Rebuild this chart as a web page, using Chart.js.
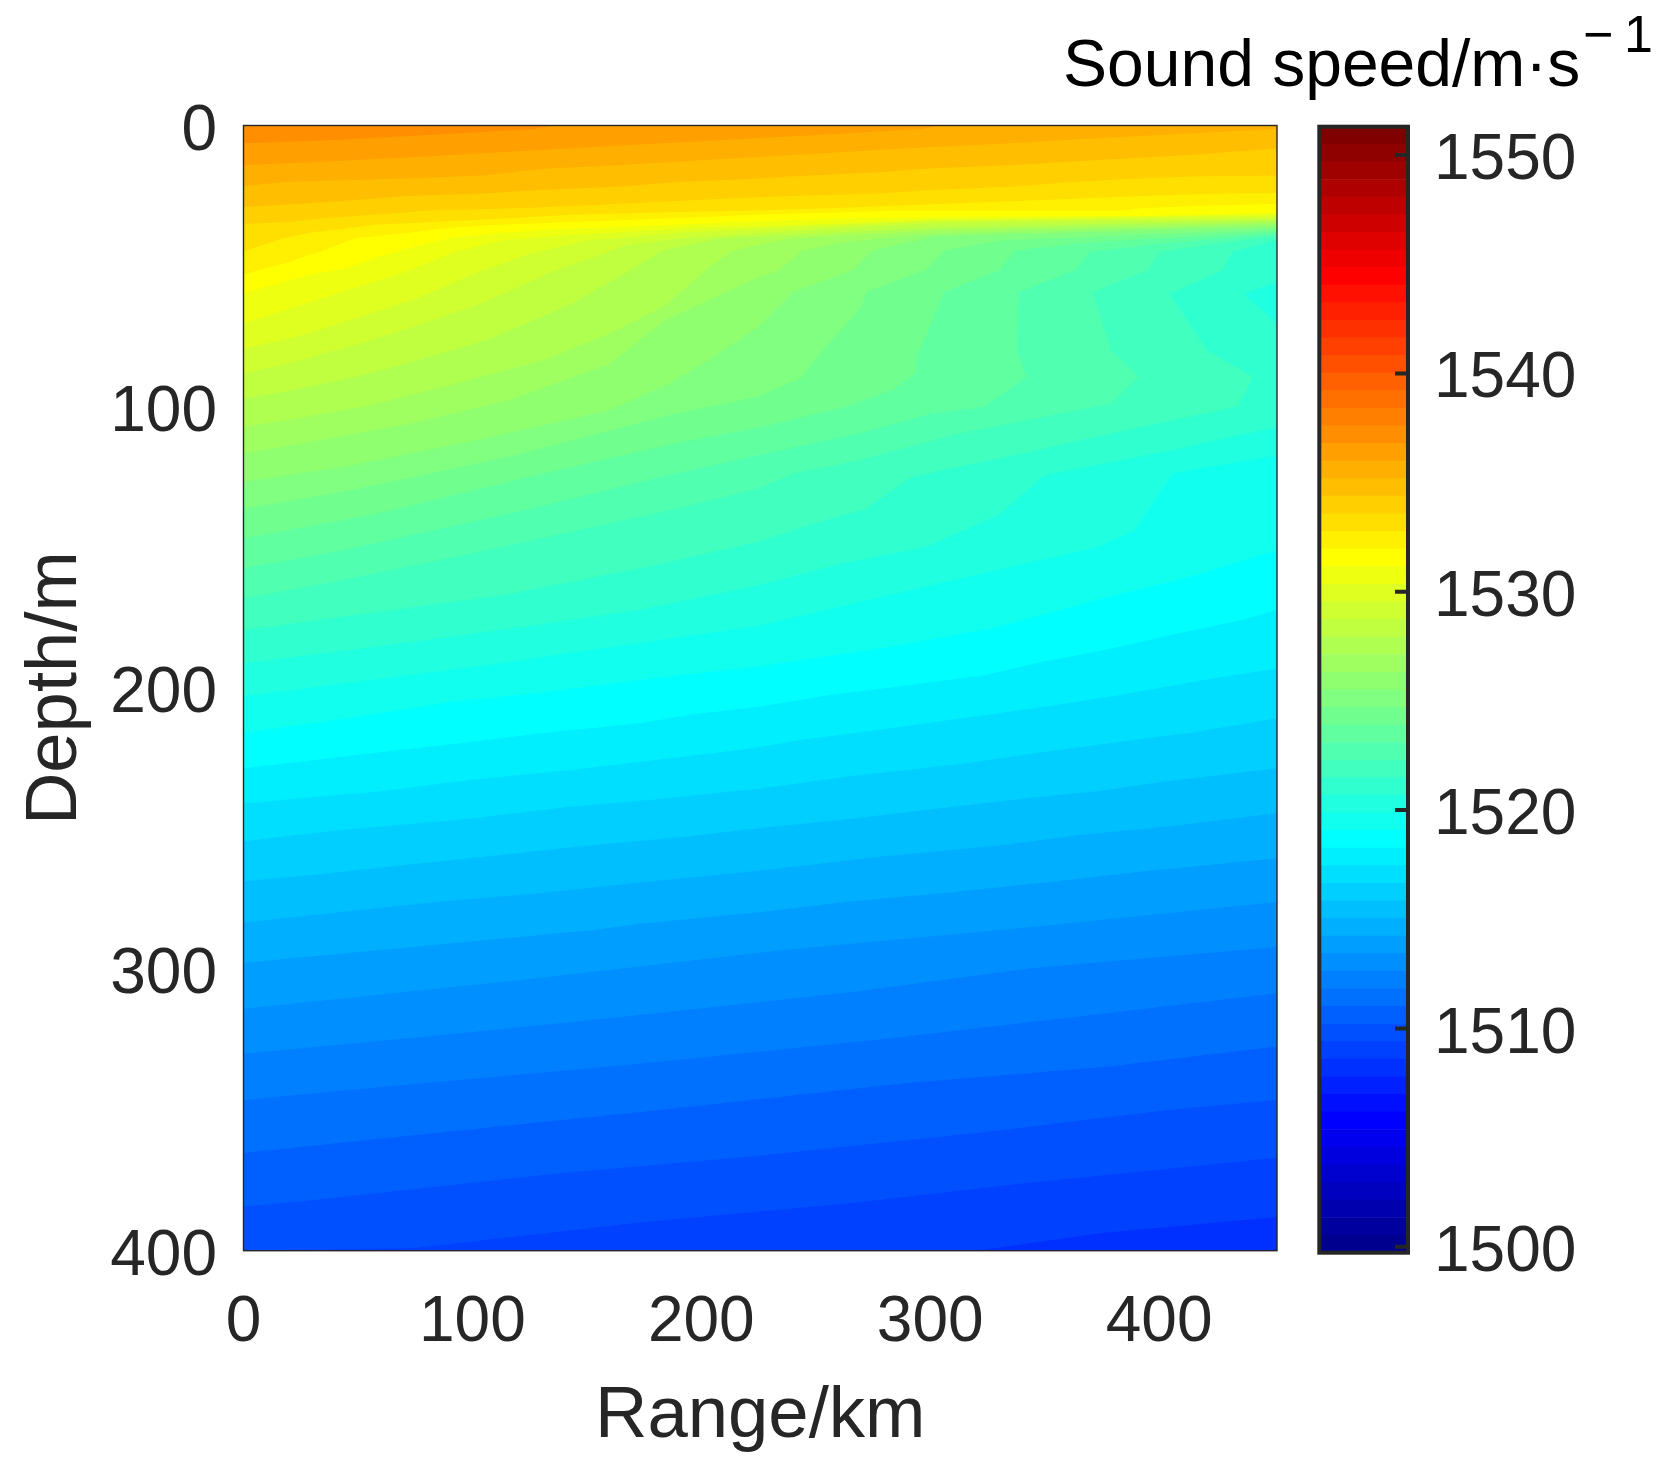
<!DOCTYPE html>
<html><head><meta charset="utf-8">
<style>
html,body{margin:0;padding:0;background:#fff;width:1666px;height:1470px;overflow:hidden}
canvas{position:absolute;top:0}
#plot{left:0}
#bar{left:1300px}
#cbTitle{position:absolute;left:1063px;top:0;height:100px;width:600px;font-family:"Liberation Sans",Arial,sans-serif;color:#000;white-space:nowrap}
#cbTitle .m{position:absolute;left:0;top:26px;font-size:66px;line-height:74px}
#cbTitle .s1{position:absolute;left:520px;top:4px;font-size:52px;line-height:60px}
#cbTitle .s2{position:absolute;left:561px;top:4px;font-size:52px;line-height:60px}
</style>
<script src="https://cdn.jsdelivr.net/npm/chart.js@4"></script>
</head><body>
<canvas id="plot" width="1666" height="1470"></canvas>
<canvas id="bar" width="366" height="1470"></canvas>
<div id="cbTitle"><span class="m">Sound speed/m·s</span><span class="s1">−</span><span class="s2">1</span></div>
<script>
// Axis ticks
const rangeTicks = [0,100,200,300,400];
const depthTicks = [0,100,200,300,400];
const speedTicks = [1500,1510,1520,1530,1540,1550];
const rangeMax = 451.5, depthMax = 400;
const colorMin = 1499.73, colorMax = 1551.3;

// Contours: [range km, depth m]. isoN is the lower edge of the
// colour band N+1, i.e. below it the field has colour index N of the 64-step jet map.
const iso47=[[0,0],[451.5,0]];
const iso46=[[0,6.3],[36,5.3],[82,3.3],[127,1.2],[135,0],[451.5,0]];
const iso45=[[0,14],[25,13.2],[71,11.4],[116,9.3],[162.5,7.2],[207,5.2],[253,3.3],[296,1.2],[305,0],[451.5,0]];
const iso44=[[0,21.5],[18,20.1],[67.5,18.9],[104.5,17.8],[131,15.4],[165,14],[198,12.4],[244,10.3],[288,8.2],[335,6.3],[379,4.3],[423.5,2.4],[451.5,1.2]];
const iso43=[[0,29],[25,27.8],[48,26.6],[71,25.1],[103,24.3],[129,22.9],[165,21.7],[190,20.1],[216,19.2],[241,18],[277.5,16.6],[301.5,15.2],[337,14],[370,12.4],[416,10.3],[451.5,8.2]];
const iso42=[[0,35],[20,34.3],[35,33],[57,31.7],[82,30.2],[126,29.2],[165,27.8],[196,26.6],[232,25.2],[275,24.3],[301.5,22.9],[337,21.7],[362,20.1],[387,19],[413,18.1],[451.5,17.8]];
const iso41=[[0,44.8],[18,40],[30.5,37.9],[44,36.7],[57,35.3],[81,34.3],[110,33.2],[143,31.7],[184.6,30.8],[221,30.2],[256,29.4],[286,28.4],[346.5,26.6],[391,25.1],[423.5,24.3],[451.5,24]];
const iso40=[[0,53],[11.6,50.3],[19,48.8],[27.6,46.2],[34,44.8],[44.3,41.4],[49.4,40],[75.5,37.9],[85.7,36.7],[106,35.5],[143,34.3],[180,33.2],[222,31.7],[289,30.2],[384,30.2],[393,29.3],[423.5,28.4],[451.5,27.8]];
const iso39=[[0,59.8],[8.7,57.4],[27.6,53.3],[39.2,51.5],[44.3,50.9],[58,46.8],[77,42.6],[92,39.7],[113,38.1],[139,36.7],[168.6,36],[205,34.7],[235,33.7],[301.5,32.4],[388.6,32.2],[451.5,31]];
const iso38=[[0,70.4],[22.5,64.5],[43.6,59],[61,54.6],[72.6,51.5],[92,45],[113,40.8],[151,38.5],[203.5,36.1],[258.6,34.9],[301.5,33.4],[451.5,31.7]];
const iso37=[[0,79.3],[23,75.2],[51,68],[75.5,61.6],[104.5,51.5],[125,45.6],[151,40.8],[195,37.9],[260,35.5],[301.5,33.9],[451.5,32.4]];
const iso36=[[0,88.2],[19,84.7],[43.6,79.3],[69.7,72.8],[101.6,64],[136.5,51.5],[151,47.4],[167,42.6],[195,39.7],[256,36.7],[301.5,34.7],[451.5,33.2]];
const iso35=[[0,97.1],[17.4,94.7],[52,88.8],[75.5,83.5],[106,76.4],[143.7,63.3],[169,51.5],[183,44.4],[207,40.3],[301.5,36.3],[451.5,33.9]];
const iso34=[[0,107.1],[19,104.8],[55,99.5],[90,92.3],[130.7,83.5],[160,74],[184.4,64],[202,51.5],[213.6,44.4],[238,40.3],[301.5,37.3],[451.5,34.6]];
const iso33=[[0,116.6],[26,113],[72.6,106],[116,97.7],[160,84.7],[184,69.3],[225,53.9],[234,51.5],[244,44.4],[263,41.4],[301.5,38.5],[451.5,35.3]];
const iso32=[[0,126.7],[43.6,121.4],[101.6,111.9],[160,101.2],[186,91.8],[203,83.5],[225,71.6],[240,59.2],[266,51.5],[274.6,44.4],[301.5,39.5],[451.5,36.1]];
const iso31=[[0,136.2],[43.6,130.2],[116,117.8],[189,102.4],[225,96.3],[244,89.4],[253,79.9],[270,64.5],[272,59.2],[298,51.5],[306,44.4],[332,40.8],[451.5,37]];
const iso30=[[0,146.8],[58,138],[130.7,123.7],[189,113],[225,107.4],[263,100],[283.4,94.1],[293.5,88.2],[293.6,83.5],[306,59.2],[330,51.5],[337,44.4],[371,41.4],[451.5,37.8]];
const iso29=[[0,157.5],[43.6,151],[116,138],[189,123.7],[225,117.2],[269,109.5],[301,102.4],[324,100],[342,89.4],[338,79.9],[338.6,59.2],[363.3,51.5],[370,45],[400,42],[451.5,38.6]];
const iso28=[[0,168.1],[43.6,161.6],[113,149.8],[189,136.2],[225,129],[240,123.7],[269,119],[312.4,109.5],[379,98.9],[391,89.4],[379,79.9],[371,59.2],[395,51.5],[400,45],[425,42],[451.5,39.3]];
const iso27=[[0,179.4],[113,167],[173,157.5],[225,148],[247,142.1],[272,136.2],[292,124.9],[341.5,116.3],[385,108.3],[434.4,100],[441,89.4],[421,79.9],[404.6,59.8],[428,51.5],[432,45],[451.5,40.8]];
const iso26=[[0,191.2],[58,185.3],[123,178.2],[173,172.2],[225,163.4],[261.6,155.7],[298,149.8],[330,138.5],[350,124.3],[406,115.4],[451.5,107.1]];
const iso26cornerTop=[[437,59.8],[451.5,55.6]];
const iso26cornerBottom=[[437,59.8],[451.5,70.4]];
const iso25=[[0,203],[101.6,192.4],[225,177.9],[273,168.7],[298,164],[341.5,155.7],[373.4,149.8],[389.4,143.9],[406,123.7],[451.5,117.2]];
const iso24=[[0,216],[44,211],[90,205],[128,201.8],[180,196.5],[225,192.4],[283,185.3],[327,178.8],[373,168.7],[414,160.4],[451.5,151]];
const iso23=[[0,228.5],[26,226],[68,222],[94.4,219.6],[130.7,216],[172.8,212.5],[194.6,209.5],[225,206.6],[256.5,202.4],[285.5,199.5],[324,195.3],[349,190.6],[376.3,186.5],[405,181.1],[436,175.8],[451.5,172.2]];
const iso22=[[0,241],[26,239.1],[59.5,236.8],[99.5,232.6],[143.8,229],[204.7,223.2],[225,221],[244,218.4],[277,214.9],[350,206.6],[383.6,202.4],[424,196.5],[451.5,193]];
const iso21=[[0,254.5],[23,252.2],[51,249.8],[94.4,246.8],[143.8,242.1],[178.6,239.7],[225,235.8],[264.5,231.4],[316,226.7],[346,223.2],[383.6,219],[413,216],[451.5,210.7]];
const iso20=[[0,268.7],[30.5,266.4],[43.6,265.2],[106,259.9],[146.7,256.3],[193,252.8],[225,249.8],[261.6,246.8],[304.5,242.7],[343,239.1],[372,236.8],[402.4,233.2],[451.5,228.5]];
const iso19=[[0,283.3],[86,275.9],[129,272.9],[178.6,268.7],[225,264.9],[279,259.9],[333,255.7],[365,252.2],[404,249.2],[451.5,244.5]];
const iso18=[[0,297.6],[153,286],[174,283.7],[225,279.7],[264.5,275.9],[305,272.9],[353,268.8],[392.5,265.2],[451.5,260.5]];
const iso17=[[0,314],[121,303.8],[237,293],[340,285.3],[382,281.8],[451.5,276]];
const iso16=[[0,330],[87,323.3],[170,316.5],[266,308],[344,299.6],[451.5,292]];
const iso15=[[0,346.4],[58,342],[167.5,334],[277,325],[352,318],[451.5,308.5]];
const iso14=[[0,365.3],[69,359.4],[182,350],[289,340.5],[378,334.5],[451.5,327.4]];
const iso13=[[0,384.3],[24.5,382.5],[139,372.4],[222,366.5],[326,357.6],[404,350],[451.5,346.4]];
const iso12=[[0,400],[75,399],[173,390],[266,383],[341,376],[451.5,367]];
const iso11=[[0,400],[320,400],[375,393.7],[451.5,388]];

// deepest first: the first dataset is painted last, on top
const contours=[iso11,iso12,iso13,iso14,iso15,iso16,iso17,iso18,iso19,iso20,iso21,iso22,iso23,iso24,iso25,iso26,iso27,iso28,iso29,iso30,iso31,iso32,iso33,iso34,iso35,iso36,iso37,iso38,iso39,iso40,iso41,iso42,iso43,iso44,iso45,iso46,iso47];
const firstBand=11, cornerBand=26;

function jet(k){ // MATLAB jet(64), k = 1..64
  let r,g,b;
  if(k<=8){r=0;g=0;b=0.5+k/16;}
  else if(k<=24){r=0;g=(k-8)/16;b=1;}
  else if(k<=40){r=(k-24)/16;g=1;b=1-(k-24)/16;}
  else if(k<=56){r=1;g=1-(k-40)/16;b=0;}
  else {r=1-(k-56)/16;g=0;b=0;}
  return `rgb(${Math.round(r*255)},${Math.round(g*255)},${Math.round(b*255)})`;
}

const INK='#262626', FONT='"Liberation Sans",Arial,sans-serif';
const tickFont={family:FONT,size:64};
const frame={id:'frame',afterDatasetsDraw(c,_,o){
  const a=c.chartArea,x=c.ctx;x.save();x.strokeStyle=INK;x.lineWidth=o.width;
  x.strokeRect(a.left,a.top,a.right-a.left,a.bottom-a.top);
  if(o.inward){const s=c.scales.y;x.lineWidth=4;x.beginPath();
    s.ticks.forEach(t=>{const p=s.getPixelForValue(t.value);x.moveTo(a.right,p);x.lineTo(a.right-13,p);});x.stroke();}
  x.restore();}};

const toPoints=pts=>pts.map(p=>({x:p[0],y:p[1]}));
const bandSets=contours.map((pts,i)=>({
  label:'band '+(firstBand+i),
  data:toPoints(pts),
  backgroundColor:jet(firstBand+i),borderWidth:0,pointRadius:0,tension:0,
  fill:{value:depthMax}
}));
// the small detached patch of band 26 at the right edge lies between its own two edges
const cornerSets=[
  {label:'band 26 patch',data:toPoints(iso26cornerTop),backgroundColor:jet(cornerBand),borderWidth:0,pointRadius:0,tension:0,fill:'+1'},
  {label:'band 26 patch edge',data:toPoints(iso26cornerBottom),borderWidth:0,pointRadius:0,tension:0,fill:false}
];

new Chart(document.getElementById('plot'),{
  type:'line',
  data:{datasets:cornerSets.concat(bandSets)},
  options:{responsive:false,animation:false,devicePixelRatio:1,events:[],
    layout:{padding:{left:0,right:389,top:125.5,bottom:0}},
    plugins:{legend:{display:false},tooltip:{enabled:false},frame:{width:1.4}},
    scales:{
      x:{type:'linear',min:0,max:rangeMax,
        afterBuildTicks:s=>{s.ticks=rangeTicks.map(v=>({value:v}));},
        afterFit:s=>{s.height=219.3;},
        grid:{display:false},border:{display:false},
        ticks:{font:tickFont,color:INK,padding:26.6,maxRotation:0,autoSkip:false,callback:v=>String(v)},
        title:{display:true,text:'Range/km',font:{family:FONT,size:72.5},color:INK,padding:{top:0,bottom:9.5}}},
      y:{type:'linear',min:0,max:depthMax,reverse:true,
        afterBuildTicks:s=>{s.ticks=depthTicks.map(v=>({value:v}));},
        afterFit:s=>{s.width=243.5;},
        grid:{display:false},border:{display:false},
        ticks:{font:tickFont,color:INK,padding:18.5,labelOffset:6.4,autoSkip:false,callback:v=>String(v)},
        title:{display:true,text:'Depth/m',font:{family:FONT,size:72.5},color:INK,padding:{top:12,bottom:0}}}
    }},
  plugins:[frame]
});

// colour bar: one floating bar per colormap step
const steps=[];for(let k=1;k<=64;k++)steps.push(k);
const stepSize=(colorMax-colorMin)/64;
new Chart(document.getElementById('bar'),{
  type:'bar',
  data:{labels:['Sound speed'],datasets:steps.map(k=>({
    label:'step '+k,
    data:[[colorMin+(k-1)*stepSize,colorMin+k*stepSize]],
    backgroundColor:jet(k),borderWidth:0,barPercentage:1,categoryPercentage:1,grouped:false
  }))},
  options:{responsive:false,animation:false,devicePixelRatio:1,events:[],
    layout:{padding:{left:19.3,right:0,top:126.7,bottom:217.3}},
    plugins:{legend:{display:false},tooltip:{enabled:false},frame:{width:4,inward:true}},
    scales:{
      x:{display:false,grid:{display:false}},
      y:{position:'right',min:colorMin,max:colorMax,
        afterBuildTicks:s=>{s.ticks=speedTicks.map(v=>({value:v}));},
        afterFit:s=>{s.width=258;},
        grid:{display:false},border:{display:false},
        ticks:{font:tickFont,color:INK,padding:18,labelOffset:6.4,autoSkip:false,callback:v=>String(v)}}
    }},
  plugins:[frame]
});
</script>
</body></html>
